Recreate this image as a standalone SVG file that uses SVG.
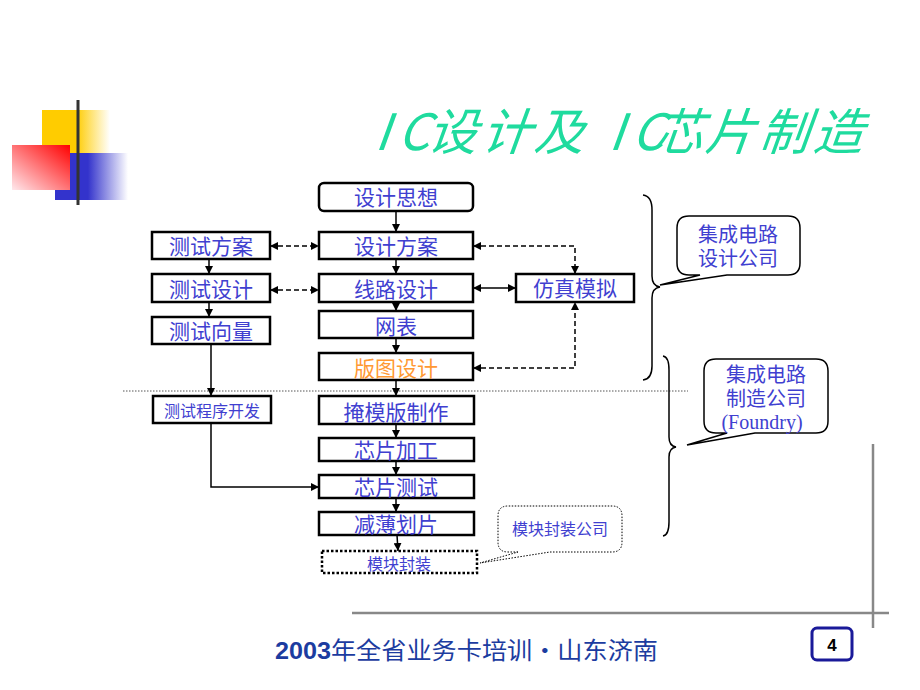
<svg xmlns="http://www.w3.org/2000/svg" width="920" height="690" viewBox="0 0 920 690">
<defs>
<linearGradient id="gy" x1="0" y1="0" x2="1" y2="0"><stop offset="0" stop-color="#FFCC00"/><stop offset="0.5" stop-color="#FFCC00"/><stop offset="1" stop-color="#FFFFFF"/></linearGradient>
<linearGradient id="gr" x1="1" y1="0" x2="0" y2="1"><stop offset="0" stop-color="#FF0000"/><stop offset="1" stop-color="#FFE8EC"/></linearGradient>
<linearGradient id="gb" x1="0" y1="0" x2="1" y2="0"><stop offset="0" stop-color="#3333CC"/><stop offset="0.45" stop-color="#3333CC"/><stop offset="1" stop-color="#FFFFFF"/></linearGradient>
<linearGradient id="gl" x1="0" y1="0" x2="1" y2="0"><stop offset="0" stop-color="#333333"/><stop offset="0.6" stop-color="#A0A0A0"/><stop offset="1" stop-color="#FFFFFF"/></linearGradient>
<marker id="arr" viewBox="0 0 10 10" refX="10" refY="5" markerWidth="8" markerHeight="8" markerUnits="userSpaceOnUse" orient="auto-start-reverse"><path d="M0,0 L10,5 L0,10 Z" fill="#000"/></marker>
<style>
.box{fill:#fff;stroke:#000;stroke-width:2.5}
.dbox{fill:#fff;stroke:#000;stroke-width:2.5;stroke-dasharray:2.5,2}
.t{font-family:"Noto Sans CJK SC","Liberation Sans",sans-serif;fill:#4040D0;text-anchor:middle}
.tc{font-family:"Liberation Serif","Noto Sans CJK SC",serif;fill:#4040D0;text-anchor:middle;font-size:20px}
.t22{font-size:21px}
.t17{font-size:16px}
.ln{fill:none;stroke:#000;stroke-width:1.5}
.da{stroke-dasharray:5,3}
.call{fill:#fff;stroke:#000;stroke-width:1.5}
.brace{fill:none;stroke:#000;stroke-width:1.5}
</style>
</defs>
<rect width="920" height="690" fill="#fff"/>
<g id="decor">
<rect x="42" y="110" width="68" height="50" fill="url(#gy)"/>
<rect x="55" y="153" width="73" height="47" fill="url(#gb)"/>
<rect x="12" y="145" width="58" height="45" fill="url(#gr)"/>
<line x1="78" y1="100" x2="78" y2="205" stroke="#333" stroke-width="3"/>
<line x1="44" y1="181" x2="698" y2="181" stroke="url(#gl)" stroke-width="3"/>
<line x1="352" y1="613" x2="889" y2="613" stroke="#888" stroke-width="2.5"/>
<line x1="873" y1="444" x2="873" y2="628" stroke="#888" stroke-width="2.5"/>
<line x1="123" y1="391" x2="688" y2="391" stroke="#555" stroke-width="1" stroke-dasharray="1.5,1.5"/>
</g>
<g id="title" transform="translate(0,150) skewX(-20)">
<text y="0" font-family="'Noto Sans CJK SC','Liberation Sans',sans-serif" font-size="50" fill="#1FDB9E" x="374 397 426 480 533 608 631 652 704 758 812">IC设计及IC芯片制造</text>
</g>
<g id="connectors">
<line class="ln" x1="396" y1="211" x2="396" y2="232" marker-end="url(#arr)"/>
<line class="ln" x1="396" y1="259" x2="396" y2="274" marker-end="url(#arr)"/>
<line class="ln" x1="396" y1="302" x2="396" y2="311" marker-end="url(#arr)"/>
<line class="ln" x1="396" y1="338" x2="396" y2="353" marker-end="url(#arr)"/>
<line class="ln" x1="396" y1="380" x2="396" y2="396" marker-end="url(#arr)"/>
<line class="ln" x1="396" y1="424" x2="396" y2="438" marker-end="url(#arr)"/>
<line class="ln" x1="396" y1="461" x2="396" y2="475" marker-end="url(#arr)"/>
<line class="ln" x1="396" y1="498" x2="396" y2="512" marker-end="url(#arr)"/>
<line class="ln" x1="397" y1="535" x2="398" y2="551" marker-end="url(#arr)"/>
<line class="ln" x1="209" y1="259" x2="209" y2="274" marker-end="url(#arr)"/>
<line class="ln" x1="209" y1="302" x2="209" y2="317" marker-end="url(#arr)"/>
<line class="ln" x1="211" y1="344" x2="211" y2="396" marker-end="url(#arr)"/>
<polyline class="ln" points="211,423 211,487 319,487" marker-end="url(#arr)"/>
<line class="ln da" x1="270" y1="246" x2="319" y2="246" marker-start="url(#arr)" marker-end="url(#arr)"/>
<line class="ln da" x1="270" y1="290" x2="319" y2="290" marker-start="url(#arr)" marker-end="url(#arr)"/>
<line class="ln" x1="473" y1="288" x2="516" y2="288" marker-start="url(#arr)" marker-end="url(#arr)"/>
<polyline class="ln da" points="473,246 575,246 575,274" marker-start="url(#arr)" marker-end="url(#arr)"/>
<polyline class="ln da" points="473,368 575,368 575,302" marker-start="url(#arr)" marker-end="url(#arr)"/>
<path class="brace" d="M643,195 Q652,196 652,210 V276 Q652,286 660,287 Q652,288 652,298 V366 Q652,379 643,380"/>
<path class="brace" d="M663,356 Q669,357 669,370 V437 Q669,446 676,447 Q669,448 669,457 V522 Q669,535 663,536"/>
</g>
<g id="n-sjsx"><rect class="box" x="319" y="183" width="154" height="28" rx="5"/><text class="t t22" x="396" y="205">设计思想</text></g>
<g id="n-sjfa"><rect class="box" x="319" y="232" width="154" height="27"/><text class="t t22" x="396" y="254">设计方案</text></g>
<g id="n-xlsj"><rect class="box" x="319" y="274" width="154" height="28"/><text class="t t22" x="396" y="297">线路设计</text></g>
<g id="n-wb"><rect class="box" x="319" y="311" width="154" height="27"/><text class="t t22" x="396" y="334">网表</text></g>
<g id="n-btsj"><rect class="box" x="319" y="353" width="154" height="27"/><text class="t t22" x="396" y="376" style="fill:#FF9933">版图设计</text></g>
<g id="n-csfa"><rect class="box" x="152" y="232" width="118" height="27"/><text class="t t22" x="211" y="254">测试方案</text></g>
<g id="n-cssj"><rect class="box" x="152" y="274" width="118" height="28"/><text class="t t22" x="211" y="297">测试设计</text></g>
<g id="n-csxl"><rect class="box" x="152" y="317" width="118" height="27"/><text class="t t22" x="211" y="339">测试向量</text></g>
<g id="n-fzmn"><rect class="box" x="516" y="274" width="118" height="28"/><text class="t t22" x="575" y="296">仿真模拟</text></g>
<g id="n-cscx"><rect class="box" x="153" y="396" width="118" height="27"/><text class="t t17" x="212" y="417">测试程序开发</text></g>
<g id="n-ymb"><rect class="box" x="319" y="396" width="155" height="28"/><text class="t t22" x="396" y="420">掩模版制作</text></g>
<g id="n-xpjg"><rect class="box" x="319" y="438" width="155" height="23"/><text class="t t22" x="396" y="458">芯片加工</text></g>
<g id="n-xpcs"><rect class="box" x="319" y="475" width="155" height="23"/><text class="t t22" x="396" y="495">芯片测试</text></g>
<g id="n-jbhp"><rect class="box" x="319" y="512" width="155" height="23"/><text class="t t22" x="396" y="532">减薄划片</text></g>
<g id="n-mkfz"><rect class="dbox" x="322" y="551" width="155" height="22"/><text class="t t17" x="399" y="570">模块封装</text></g>
<g id="c-design">
<path class="call" d="M700,275 H689 Q677,275 677,263 V228 Q677,216 689,216 H788 Q800,216 800,228 V263 Q800,275 788,275 H727 L660,285 Z"/>
<text class="tc" x="738" y="242">集成电路</text>
<text class="tc" x="738" y="266">设计公司</text>
</g>
<g id="c-foundry">
<path class="call" d="M727,433 H716 Q704,433 704,421 V371 Q704,359 716,359 H816 Q828,359 828,371 V421 Q828,433 816,433 H755 L687,445 Z"/>
<text class="tc" x="766" y="382">集成电路</text>
<text class="tc" x="766" y="406">制造公司</text>
<text class="tc" x="762" y="429">(Foundry)</text>
</g>
<g id="c-pack">
<path class="call" style="stroke-width:1;stroke-dasharray:1.5,1.5" d="M518,552 H508 Q498,552 498,542 V516 Q498,506 508,506 H612 Q622,506 622,516 V542 Q622,552 612,552 H550 L480,563 Z"/>
<text class="t t17" x="560" y="535">模块封装公司</text>
</g>
<g id="footer">
<text x="275" y="659" font-family="'Liberation Sans','Noto Sans CJK SC',sans-serif" font-size="24" fill="#1C3CA0" textLength="383" lengthAdjust="spacingAndGlyphs"><tspan font-weight="bold">2003</tspan><tspan font-family="'Noto Sans CJK SC',sans-serif">年全省业务卡培训·山东济南</tspan></text>
<rect x="812" y="628" width="40" height="32" rx="5" fill="#fff" stroke="#1A1A99" stroke-width="3"/>
<text x="832" y="651" font-family="'Liberation Sans',sans-serif" font-size="17" font-weight="bold" text-anchor="middle" fill="#000">4</text>
</g>
</svg>
